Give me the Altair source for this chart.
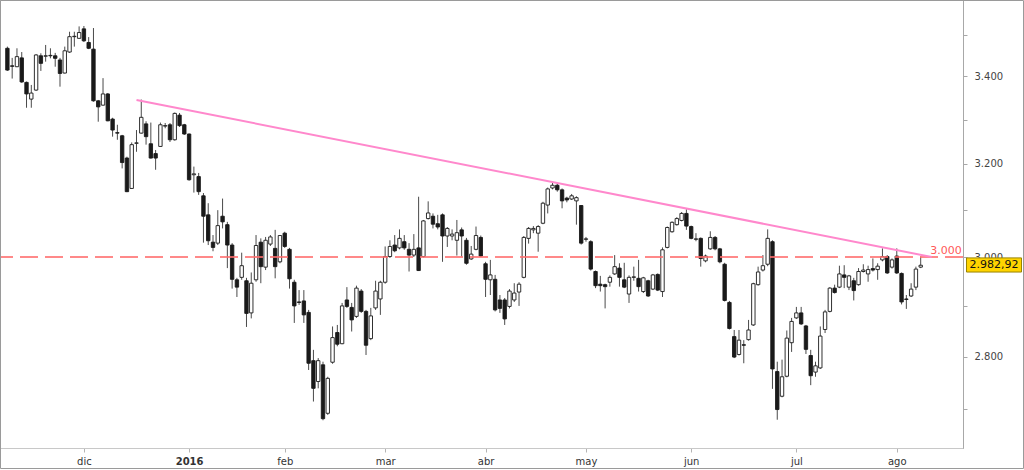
import altair as alt
import pandas as pd

# Daily candles (trading-day index 0 = 9 nov 2015 ... 191 = 8 ago 2016)
opens = [3467, 3425, 3423, 3444, 3386, 3347, 3368, 3449, 3448, 3449, 3449, 3439, 3408, 3458, 3495, 3491,
         3514, 3481, 3465, 3343, 3333, 3359, 3301, 3270, 3263, 3213, 3146, 3246, 3269, 3290, 3245, 3223,
         3239, 3285, 3288, 3254, 3310, 3288, 3267, 3176, 3172, 3130, 3089, 3031, 3029, 3086, 3068, 3025,
         2953, 2958, 2951, 2886, 2953, 3031, 2979, 3027, 3018, 2990, 3050, 3016, 2948, 2908, 2910, 2887,
         2792, 2752, 2784, 2692, 2789, 2847, 2825, 2912, 2897, 2879, 2930, 2889, 2835, 2896, 2914, 2948,
         3001, 3025, 3019, 3032, 3016, 3004, 3019, 3001, 3081, 3086, 3070, 3089, 3044, 3044, 3035, 3057,
         3035, 2996, 3016, 3041, 2986, 2953, 2954, 2912, 2912, 2899, 2912, 2928, 2958, 3039, 3057, 3050,
         3071, 3110, 3147, 3153, 3143, 3125, 3123, 3119, 3109, 3037, 3032, 2970, 2944, 2943, 2948, 2965,
         2977, 2953, 2924, 2958, 2956, 2929, 2951, 2934, 2964, 2929, 3020, 3053, 3068, 3077, 3092, 3064,
         3037, 3039, 2992, 3017, 3041, 3017, 2985, 2907, 2839, 2804, 2823, 2833, 2862, 2943, 2973, 2985,
         3032, 2771, 2724, 2762, 2827, 2876, 2886, 2860, 2802, 2770, 2778, 2853, 2889, 2936, 2938, 2963,
         2938, 2951, 2943, 2970, 2965, 2976, 2974, 2994, 3001, 2979, 3002, 2966, 2914, 2920, 2938, 2979]
highs = [3471, 3444, 3467, 3458, 3388, 3380, 3453, 3455, 3475, 3467, 3456, 3444, 3471, 3507, 3507, 3520,
         3521, 3494, 3516, 3345, 3396, 3361, 3304, 3288, 3265, 3216, 3248, 3276, 3346, 3296, 3293, 3231,
         3293, 3292, 3292, 3316, 3315, 3290, 3268, 3194, 3180, 3136, 3114, 3046, 3099, 3124, 3074, 3029,
         2957, 3009, 2957, 2968, 3046, 3039, 3042, 3046, 3057, 3046, 3053, 3019, 2953, 2932, 2932, 2892,
         2813, 2797, 2790, 2761, 2859, 2862, 2906, 2938, 2906, 2941, 2934, 2892, 2896, 2951, 2951, 3022,
         3035, 3046, 3058, 3046, 3029, 3048, 3128, 3078, 3118, 3092, 3089, 3092, 3063, 3058, 3078, 3062,
         3040, 3023, 3064, 3045, 2990, 2994, 2963, 2922, 2916, 2934, 2946, 2948, 3044, 3063, 3065, 3067,
         3117, 3148, 3160, 3157, 3146, 3128, 3134, 3129, 3110, 3042, 3035, 2972, 2961, 2945, 2962, 3004,
         2987, 2988, 2962, 2980, 2994, 2959, 2953, 2965, 2966, 3020, 3064, 3075, 3084, 3095, 3101, 3066,
         3050, 3041, 3005, 3054, 3044, 3019, 2988, 2910, 2852, 2852, 2832, 2872, 2947, 2980, 3004, 3058,
         3035, 2790, 2794, 2851, 2876, 2898, 2898, 2862, 2813, 2790, 2859, 2892, 2938, 2943, 2982, 2983,
         2963, 2957, 2977, 2985, 2982, 2997, 2987, 3018, 3004, 2997, 3018, 2968, 2922, 2946, 2980, 3001]
lows = [3413, 3395, 3422, 3385, 3327, 3327, 3366, 3413, 3435, 3443, 3423, 3376, 3407, 3456, 3471, 3490,
        3482, 3465, 3341, 3295, 3332, 3296, 3261, 3254, 3190, 3138, 3145, 3227, 3268, 3243, 3212, 3187,
        3238, 3280, 3249, 3252, 3283, 3265, 3163, 3137, 3132, 3030, 3025, 3012, 3025, 3060, 2977, 2935,
        2918, 2953, 2858, 2875, 2949, 2946, 2973, 3023, 2956, 2987, 3019, 2935, 2866, 2902, 2866, 2774,
        2714, 2739, 2679, 2689, 2786, 2820, 2824, 2896, 2849, 2876, 2886, 2803, 2832, 2892, 2882, 2945,
        2998, 3010, 3016, 3015, 2970, 3000, 2971, 2999, 3079, 3060, 3058, 2990, 3021, 3035, 3003, 3001,
        2984, 2994, 3014, 3000, 2918, 2922, 2889, 2886, 2862, 2895, 2908, 2900, 2956, 3028, 3050, 3011,
        3069, 3092, 3144, 3139, 3103, 3116, 3121, 3068, 3026, 3032, 2972, 2936, 2929, 2895, 2939, 2963,
        2939, 2936, 2906, 2951, 2929, 2926, 2918, 2932, 2930, 2918, 3018, 3051, 3066, 3075, 3057, 3037,
        3033, 2980, 2989, 3015, 3014, 2987, 2909, 2853, 2797, 2802, 2787, 2831, 2860, 2941, 2970, 2981,
        2738, 2680, 2722, 2760, 2809, 2874, 2862, 2805, 2745, 2761, 2776, 2846, 2887, 2925, 2936, 2936,
        2932, 2911, 2941, 2968, 2949, 2970, 2953, 2991, 2965, 2976, 2965, 2903, 2894, 2918, 2932, 2977]
closes = [3415, 3424, 3447, 3387, 3359, 3361, 3451, 3431, 3449, 3450, 3443, 3407, 3461, 3495, 3496, 3505,
          3485, 3467, 3343, 3329, 3359, 3297, 3276, 3269, 3203, 3139, 3243, 3247, 3305, 3261, 3213, 3213,
          3288, 3286, 3254, 3314, 3286, 3267, 3165, 3178, 3139, 3086, 3034, 3020, 3066, 3074, 3025, 2954,
          2938, 2982, 2885, 2946, 3024, 2980, 3035, 3042, 2980, 3045, 3022, 2955, 2900, 2907, 2882, 2787,
          2739, 2792, 2682, 2758, 2837, 2824, 2900, 2899, 2872, 2936, 2889, 2822, 2880, 2930, 2948, 3001,
          3022, 3013, 3039, 3019, 3004, 3016, 2972, 3076, 3093, 3069, 3063, 3044, 3060, 3048, 3051, 3044,
          2987, 3006, 3045, 3002, 2954, 2963, 2892, 2895, 2874, 2930, 2926, 2944, 3041, 3060, 3060, 3064,
          3114, 3145, 3153, 3143, 3119, 3121, 3130, 3126, 3029, 3038, 2975, 2941, 2941, 2939, 2958, 2980,
          2958, 2938, 2958, 2959, 2939, 2957, 2920, 2963, 2932, 3015, 3062, 3073, 3081, 3092, 3065, 3039,
          3038, 2997, 3002, 3041, 3017, 2990, 2911, 2855, 2799, 2832, 2822, 2852, 2945, 2969, 2982, 3039,
          2776, 2699, 2761, 2836, 2869, 2886, 2864, 2814, 2763, 2782, 2840, 2888, 2936, 2927, 2965, 2958,
          2961, 2931, 2970, 2973, 2974, 2973, 2981, 3001, 2967, 2994, 2967, 2908, 2913, 2934, 2975, 2982.92]

month_pos = [16, 38, 58, 79, 100, 121, 143, 165, 186]
month_lbl = ["dic", "2016", "feb", "mar", "abr", "may", "jun", "jul", "ago"]
ytick_vals = [2700, 2800, 2900, 3000, 3100, 3200, 3300, 3400, 3500]
trend_idx = [27, 193.3]
trend_val = [3345, 3000]
level = 3000
last_close = 2982.92
last_label = "2.982,92"
level_label = "3.000"

n = len(opens)
df = pd.DataFrame({"i": list(range(n)), "open": opens, "high": highs, "low": lows, "close": closes})
trend = pd.DataFrame({"i": trend_idx, "v": trend_val})
lev = pd.DataFrame({"v": [level], "t": [level_label]})
last = pd.DataFrame({"v": [last_close], "lo": [last_close * 0.9953], "hi": [last_close * 1.0051], "t": [last_label]})
frame = pd.DataFrame({"k": [0]})

xs = alt.Scale(domain=[-0.5, 198.8], nice=False, zero=False)
ys = alt.Scale(type="log", domain=[2628, 3585], nice=False, zero=False)

lbl_expr = " : ".join(f"datum.value == {p} ? '{l}'" for p, l in zip(month_pos, month_lbl)) + " : ''"

x_axis = alt.Axis(values=month_pos, labelExpr=lbl_expr, title=None, grid=False,
                  domainColor="#c8c8c8", tickColor="#b4b4b4", tickSize=4,
                  labelFont="DejaVu Sans", labelFontSize=10, labelColor="#333333",
                  labelPadding=4, labelFlush=False,
                  labelFontWeight={"condition": {"test": "datum.value == 38", "value": "bold"},
                                   "value": "normal"})
y_axis = alt.Axis(orient="right", values=ytick_vals, title=None, grid=False,
                  labelExpr="datum.value % 200 == 0 ? replace(format(datum.value, ',d'), ',', '.') : ''",
                  domainColor="#a8a8a8", tickColor="#a8a8a8", tickSize=4,
                  labelFont="DejaVu Sans", labelFontSize=10, labelColor="#444444",
                  labelPadding=7)

X = alt.X("i:Q", scale=xs, axis=x_axis)

wicks = alt.Chart(df).mark_rule(color="#4a4a4a", strokeWidth=1).encode(
    x=X, y=alt.Y("low:Q", scale=ys, axis=y_axis), y2="high:Q")

bodies = alt.Chart(df).mark_bar(size=3.4, stroke="#1a1a1a", strokeWidth=0.9).encode(
    x=alt.X("i:Q", scale=xs),
    y=alt.Y("open:Q", scale=ys),
    y2="close:Q",
    fill=alt.condition("datum.close >= datum.open", alt.value("#ffffff"), alt.value("#1a1a1a")))

dash = alt.Chart(lev).mark_rule(color="#ff6b6b", strokeDash=[18, 7], strokeWidth=2, opacity=0.8).encode(
    y=alt.Y("v:Q", scale=ys))

trendline = alt.Chart(trend).mark_line(color="#ff88cc", strokeWidth=2).encode(
    x=alt.X("i:Q", scale=xs), y=alt.Y("v:Q", scale=ys))

lev_text = alt.Chart(lev).mark_text(color="#ff5a5a", fontSize=11, font="DejaVu Sans",
                                    align="center", baseline="bottom", dy=-1).encode(
    x=alt.value(946), y=alt.Y("v:Q", scale=ys), text="t:N")

box = alt.Chart(last).mark_rect(fill="#ffd400", stroke="#9a8400", strokeWidth=1).encode(
    x=alt.value(966.5), x2=alt.value(1021.5), y=alt.Y("lo:Q", scale=ys), y2="hi:Q")

box_text = alt.Chart(last).mark_text(color="#111111", fontSize=11, font="DejaVu Sans",
                                     align="center", baseline="middle").encode(
    x=alt.value(994), y=alt.Y("v:Q", scale=ys), text="t:N")

outer = alt.Chart(frame).mark_rect(fillOpacity=0, stroke="#9a9a9a", strokeWidth=1).encode(
    x=alt.value(0.5), x2=alt.value(1023.5), y=alt.value(0.5), y2=alt.value(468.5))

chart = alt.layer(wicks, bodies, dash, trendline, lev_text, box, box_text, outer).properties(
    width=963, height=448, autosize="none",
    padding={"left": 0, "top": 0, "right": 61, "bottom": 22},
    background="#ffffff",
).configure_view(stroke="#a0a0a0")

chart.save("out.html", embed_options={"renderer": "svg", "actions": False})
